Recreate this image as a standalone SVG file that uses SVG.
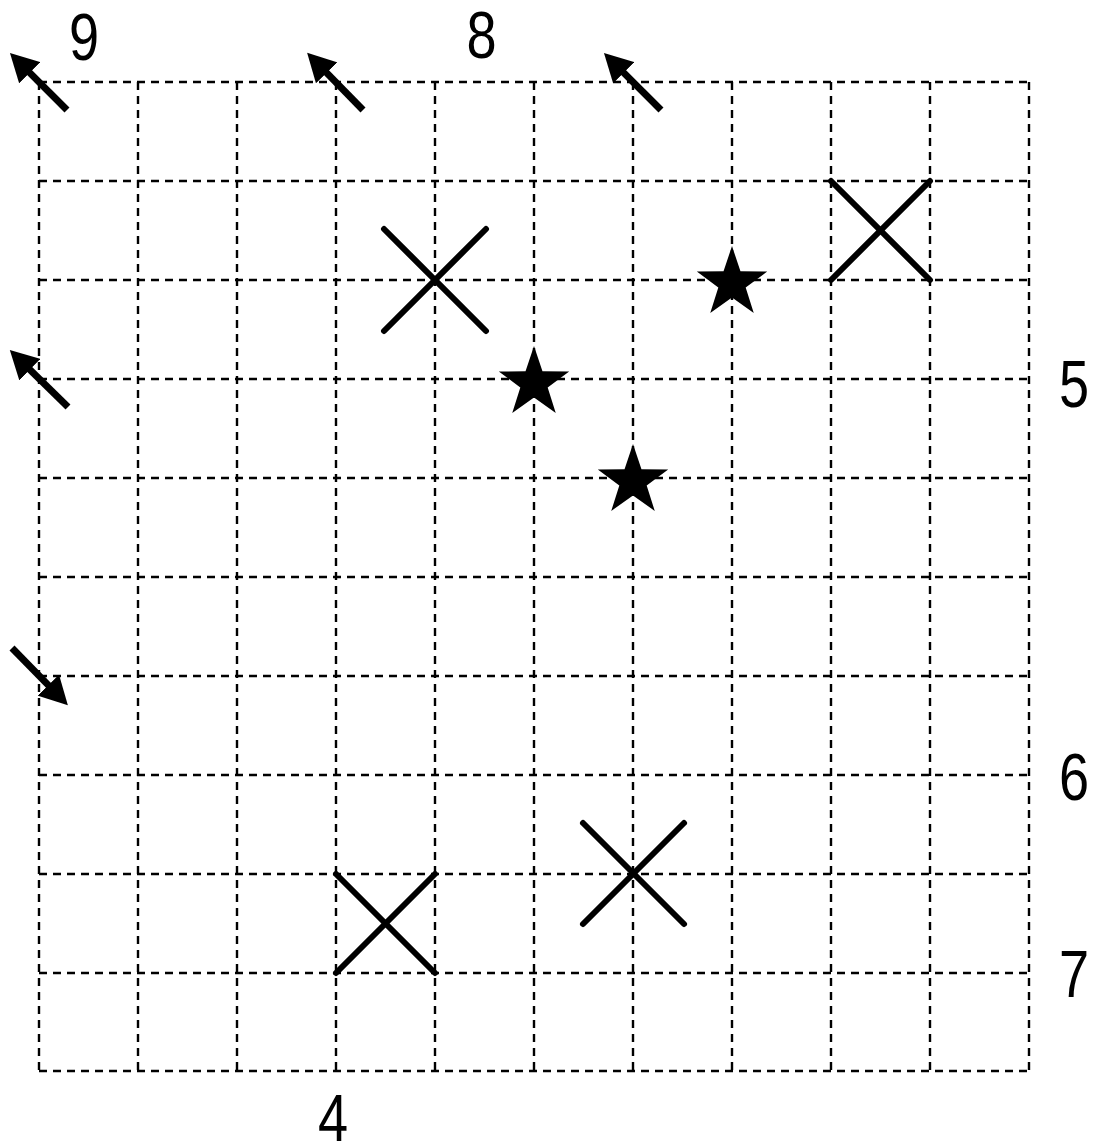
<svg xmlns="http://www.w3.org/2000/svg" width="1094" height="1146" viewBox="0 0 1094 1146">
<style>
.grid line{stroke:#000;stroke-width:2.4;stroke-dasharray:8,6;fill:none}
.x line{stroke:#000;stroke-width:6;stroke-linecap:round}
.arr{stroke:#000;stroke-width:7;fill:none;marker-end:url(#ah)}
.star{fill:#000}
.lbl{font-family:"Liberation Sans",Arial,sans-serif;font-size:66px;fill:#000;text-anchor:middle}
</style>
<defs>
<marker id="ah" markerUnits="userSpaceOnUse" viewBox="0 0 28 30" markerWidth="28" markerHeight="30" refX="8" refY="15" orient="auto">
<path d="M0,0 L28,15 L0,30 Z" fill="#000"/>
</marker>
<path id="st" d="M0,-37 L8.46,-11.64 L35.19,-11.43 L13.68,4.45 L21.75,29.93 L0,14.4 L-21.75,29.93 L-13.68,4.45 L-35.19,-11.43 L-8.46,-11.64 Z"/>
</defs>
<rect width="1094" height="1146" fill="#fff"/>
<g id="grid" class="grid">
<line x1="39" y1="82" x2="1029" y2="82"/>
<line x1="39" y1="181" x2="1029" y2="181"/>
<line x1="39" y1="280" x2="1029" y2="280"/>
<line x1="39" y1="379" x2="1029" y2="379"/>
<line x1="39" y1="478" x2="1029" y2="478"/>
<line x1="39" y1="577" x2="1029" y2="577"/>
<line x1="39" y1="676" x2="1029" y2="676"/>
<line x1="39" y1="775" x2="1029" y2="775"/>
<line x1="39" y1="874" x2="1029" y2="874"/>
<line x1="39" y1="973" x2="1029" y2="973"/>
<line x1="39" y1="1071" x2="1029" y2="1071"/>
<line x1="39" y1="82" x2="39" y2="1071"/>
<line x1="138" y1="82" x2="138" y2="1071"/>
<line x1="237" y1="82" x2="237" y2="1071"/>
<line x1="336" y1="82" x2="336" y2="1071"/>
<line x1="435" y1="82" x2="435" y2="1071"/>
<line x1="534" y1="82" x2="534" y2="1071"/>
<line x1="633" y1="82" x2="633" y2="1071"/>
<line x1="732" y1="82" x2="732" y2="1071"/>
<line x1="831" y1="82" x2="831" y2="1071"/>
<line x1="930" y1="82" x2="930" y2="1071"/>
<line x1="1029" y1="82" x2="1029" y2="1071"/>
</g>
<g id="crosses" class="x">
<g id="x1"><line x1="384" y1="229" x2="486" y2="331"/><line x1="486" y1="229" x2="384" y2="331"/></g>
<g id="x2"><line x1="831" y1="181" x2="930" y2="280"/><line x1="930" y1="181" x2="831" y2="280"/></g>
<g id="x3"><line x1="583" y1="823" x2="684" y2="924"/><line x1="684" y1="823" x2="583" y2="924"/></g>
<g id="x4"><line x1="336" y1="874" x2="435" y2="973"/><line x1="435" y1="874" x2="336" y2="973"/></g>
</g>
<g id="stars" class="star">
<use id="s1" href="#st" x="534" y="383"/>
<use id="s2" href="#st" x="633" y="481"/>
<use id="s3" href="#st" x="732" y="283"/>
</g>
<g id="arrows">
<line class="arr" x1="67" y1="110" x2="24.1" y2="67.1"/>
<line class="arr" x1="363" y1="110" x2="321.1" y2="67.1"/>
<line class="arr" x1="661" y1="110" x2="618.1" y2="67.1"/>
<line class="arr" x1="68" y1="407" x2="24.1" y2="364.1"/>
<line class="arr" x1="12" y1="648" x2="53.9" y2="690.9"/>
</g>
<g id="labels" class="lbl">
<text transform="translate(84,60) scale(0.82,1)">9</text>
<text transform="translate(481.5,58) scale(0.82,1)">8</text>
<text transform="translate(1074,407) scale(0.82,1)">5</text>
<text transform="translate(1074,800) scale(0.82,1)">6</text>
<text transform="translate(1074,997) scale(0.82,1)">7</text>
<text transform="translate(333,1141) scale(0.82,1)">4</text>
</g>
</svg>
